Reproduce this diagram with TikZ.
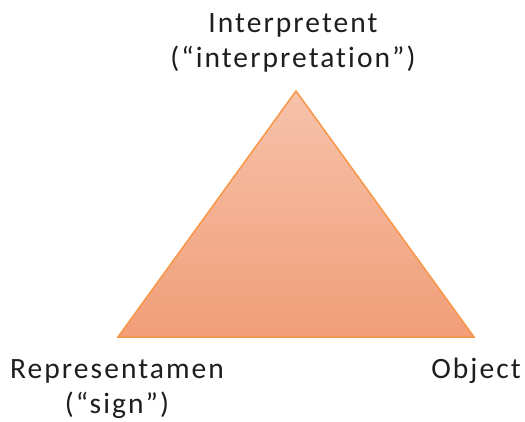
\documentclass[tikz,border=0pt]{standalone}
\usepackage{fontspec}
\setmainfont[LetterSpace=7,RawFeature={-liga}]{Carlito}
\definecolor{topfill}{RGB}{246,194,170}
\definecolor{botfill}{RGB}{241,158,120}
\definecolor{edge}{RGB}{247,150,70}
\definecolor{txt}{RGB}{30,30,30}
\begin{document}
\begin{tikzpicture}[x=1pt,y=1pt,
  lbl/.style={font=\fontsize{29.5}{35}\selectfont, text=txt, align=center, inner sep=0pt, anchor=base}]
\useasboundingbox (0,0) rectangle (525,421);
\coordinate (apex) at (296,330);
\coordinate (bl) at (118,84);
\coordinate (br) at (474,84);
\shade[top color=topfill, bottom color=botfill, draw=edge, line width=1.5pt, line join=miter]
  (apex) -- (br) -- (bl) -- cycle;
\node[lbl] (interp) at (293,388) {Interpretent};
\node[lbl] (interp2) at (293,353) {(“interpretation”)};
\node[lbl] (rep) at (117,43) {Representamen};
\node[lbl] (rep2) at (117,8) {(“sign”)};
\node[lbl] (obj) at (476,43) {Object};
\end{tikzpicture}
\end{document}
